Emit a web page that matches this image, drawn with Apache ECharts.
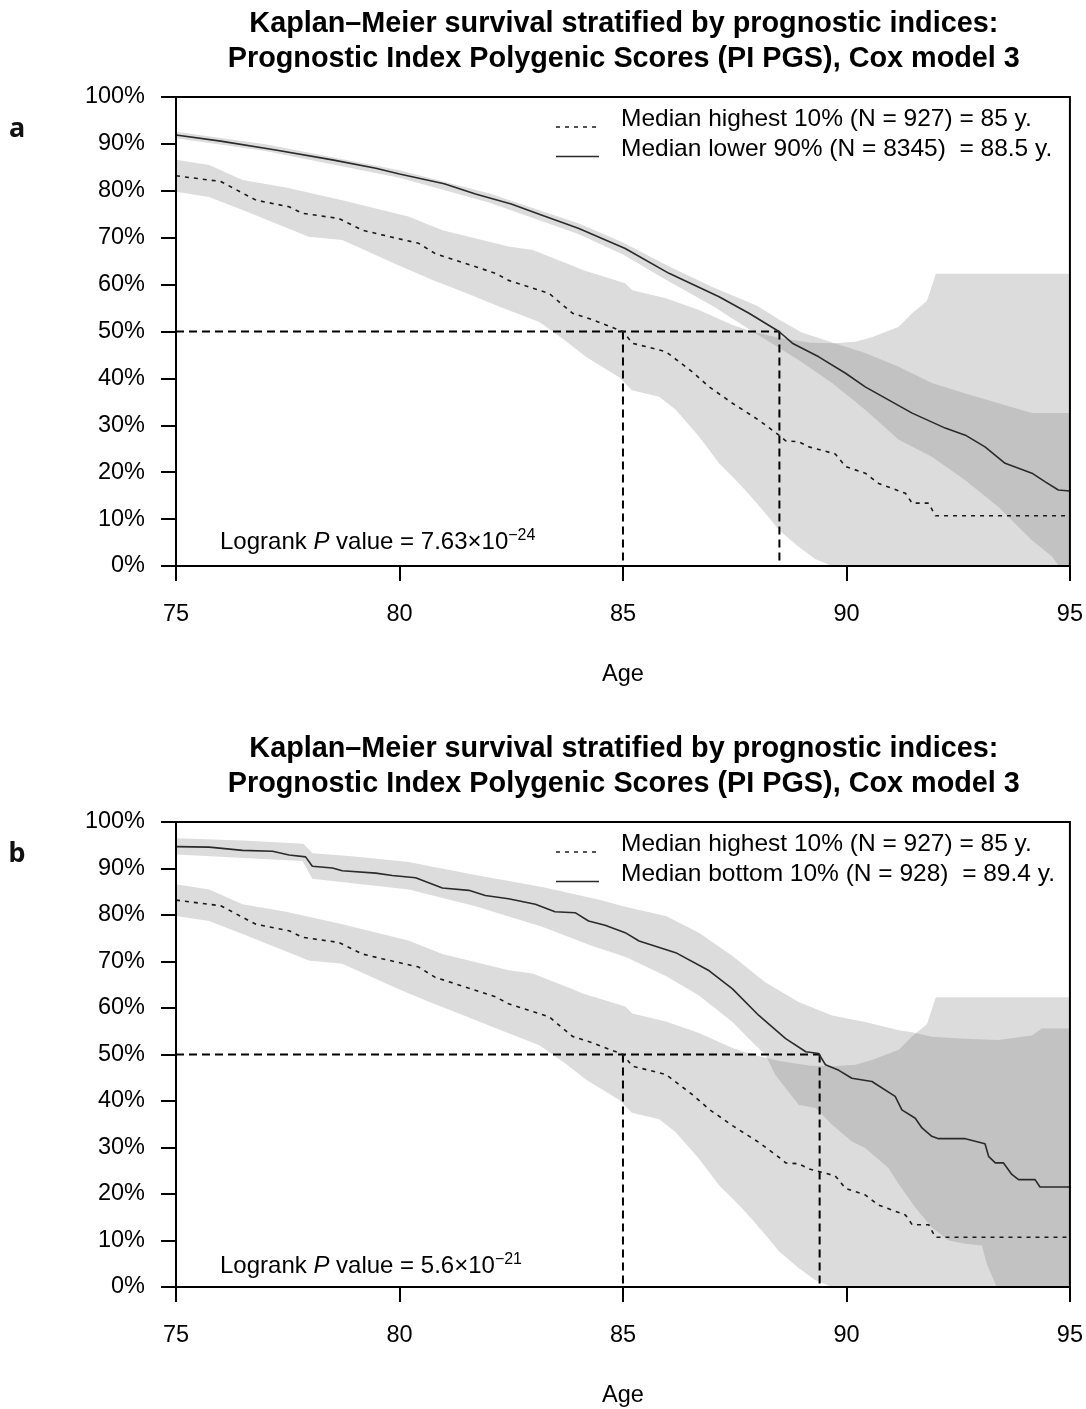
<!DOCTYPE html>
<html>
<head>
<meta charset="utf-8">
<script src="https://cdn.jsdelivr.net/npm/echarts@6/dist/echarts.min.js"></script>
<style>
  html, body { margin: 0; padding: 0; background: #fff; }
  #chart { width: 1086px; height: 1409px; }
</style>
</head>
<body>
<div id="chart"></div>
<script>
// ---- Kaplan–Meier estimates (age in years, survival in %) ----

// Highest 10% PI PGS group (same group in both panels)
const highAge  = [75.0, 75.74, 76.0, 76.49, 76.79, 77.53, 77.83, 78.64, 79.17, 79.61, 80.43, 80.8, 81.48, 82.15, 82.44, 83.35, 83.87, 84.32, 84.92, 85.0, 85.21, 85.96, 86.55, 86.93, 87.45, 88.04, 88.49, 88.64, 88.93, 89.16, 89.75, 89.98, 90.42, 90.72, 91.32, 91.47, 91.84, 91.99, 95.0];
const highSurv = [83.2, 82.3, 82.0, 79.5, 78.0, 76.6, 75.2, 74.1, 71.6, 70.6, 68.8, 66.6, 64.5, 62.4, 60.9, 58.1, 53.9, 52.5, 50.3, 50.0, 47.5, 45.7, 41.4, 38.2, 34.7, 31.1, 27.9, 26.7, 26.5, 25.4, 23.9, 21.2, 19.8, 17.6, 15.5, 13.4, 13.4, 10.7, 10.7];
const highUpAge = [75.0, 75.74, 76.49, 77.46, 78.72, 80.2, 80.96, 82.44, 82.98, 83.93, 84.1, 85.05, 85.21, 85.96, 86.7, 87.45, 87.89, 88.5, 89.2, 89.7, 90.2, 90.57, 91.17, 91.47, 91.8, 92.0, 95.0];
const highUp    = [86.6, 85.5, 82.3, 80.7, 78.0, 74.5, 71.6, 68.1, 67.4, 63.8, 63.1, 60.3, 58.8, 57.1, 54.6, 51.4, 50.0, 48.6, 47.6, 47.5, 47.8, 48.8, 51.0, 53.9, 56.5, 62.3, 62.3];
const highLoAge = [75.0, 75.74, 76.49, 77.97, 78.72, 80.0, 80.74, 81.6, 82.24, 83.13, 83.72, 84.17, 84.92, 85.2, 85.81, 86.18, 86.7, 87.15, 87.6, 87.89, 88.19, 88.49, 88.93, 89.3, 89.68, 95.0];
const highLo    = [79.8, 78.7, 75.9, 70.2, 69.5, 64.0, 61.0, 57.8, 55.3, 52.0, 48.0, 44.6, 40.2, 37.5, 36.1, 33.3, 27.6, 21.9, 17.6, 14.5, 11.2, 7.7, 4.1, 1.5, 0.0, 0.0];

// Lower 90% group (panel a)
const lowerAge  = [75.0, 76.0, 77.23, 78.5, 79.47, 80.0, 81.0, 81.7, 82.5, 83.19, 84.0, 85.05, 86.03, 87.15, 87.82, 88.49, 88.79, 89.38, 89.98, 90.42, 90.87, 91.47, 92.21, 92.66, 93.1, 93.55, 94.15, 94.44, 94.74, 95.0];
const lowerSurv = [91.9, 90.6, 88.7, 86.6, 84.8, 83.6, 81.5, 79.3, 77.2, 74.8, 72.0, 67.7, 62.4, 57.4, 53.9, 50.0, 47.5, 44.6, 41.1, 38.2, 35.8, 32.6, 29.4, 27.9, 25.4, 21.9, 19.8, 18.0, 16.2, 16.0];
const lowerUpAge = [75.0, 77.0, 80.0, 82.0, 84.0, 85.0, 86.0, 87.0, 88.0, 88.5, 89.0, 89.7, 90.42, 91.17, 91.91, 92.66, 93.4, 94.15, 95.0];
const lowerUp    = [92.6, 89.9, 84.4, 79.5, 73.1, 69.0, 64.0, 59.5, 55.5, 52.5, 49.8, 47.6, 45.4, 42.5, 39.0, 36.8, 34.7, 32.6, 32.6];
const lowerLoAge = [75.0, 77.0, 80.0, 82.0, 84.0, 85.0, 86.0, 87.0, 87.9, 88.93, 89.68, 90.42, 91.17, 91.91, 92.66, 93.4, 94.15, 94.6, 94.75, 95.0];
const lowerLo    = [91.2, 88.5, 82.8, 77.5, 70.8, 66.4, 60.8, 55.5, 50.0, 43.9, 39.0, 33.3, 26.9, 23.3, 18.3, 12.6, 5.5, 2.0, 0.0, 0.0];

// Bottom 10% group (panel b)
const bottomAge  = [75.0, 75.74, 76.49, 77.16, 77.53, 77.9, 78.05, 78.5, 78.72, 79.47, 79.84, 80.36, 80.96, 81.55, 81.92, 82.44, 83.04, 83.48, 83.93, 84.23, 84.6, 85.05, 85.36, 86.18, 86.93, 87.45, 88.04, 88.64, 89.09, 89.38, 89.53, 89.83, 90.12, 90.57, 91.09, 91.24, 91.54, 91.69, 91.91, 92.06, 92.66, 93.1, 93.18, 93.33, 93.51, 93.7, 93.85, 94.22, 94.33, 95.0];
const bottomSurv = [94.7, 94.6, 93.9, 93.7, 92.9, 92.5, 90.5, 90.1, 89.5, 89.0, 88.5, 88.0, 85.8, 85.3, 84.2, 83.5, 82.3, 80.7, 80.5, 78.7, 77.8, 76.2, 74.4, 71.9, 68.0, 64.1, 58.4, 53.4, 50.6, 50.2, 47.8, 46.6, 44.9, 44.2, 41.0, 38.1, 36.3, 34.2, 32.4, 31.9, 31.9, 30.8, 28.1, 26.7, 26.7, 24.2, 23.1, 23.1, 21.5, 21.5];
const bottomUpAge = [75.0, 76.5, 77.85, 78.05, 79.0, 80.2, 81.7, 83.19, 84.47, 85.05, 85.96, 86.7, 87.45, 88.19, 88.93, 89.68, 90.42, 91.17, 91.47, 91.91, 92.66, 93.4, 94.15, 94.37, 95.0];
const bottomUp    = [96.5, 96.0, 95.3, 93.3, 92.6, 91.4, 88.6, 86.0, 83.3, 81.8, 79.8, 76.2, 71.2, 65.5, 61.3, 58.4, 57.0, 55.2, 54.8, 53.8, 53.4, 53.1, 54.1, 55.6, 55.6];
const bottomLoAge = [75.0, 77.83, 78.05, 80.21, 81.7, 83.19, 84.3, 85.05, 85.96, 86.7, 87.45, 87.89, 88.19, 88.41, 88.93, 89.31, 89.68, 90.12, 90.42, 90.94, 91.17, 91.54, 91.91, 92.29, 92.66, 93.03, 93.14, 93.33, 93.36, 95.0];
const bottomLo    = [93.0, 91.6, 87.8, 85.5, 81.9, 77.5, 73.4, 71.0, 66.9, 62.7, 57.0, 52.7, 49.9, 45.6, 39.2, 38.5, 34.9, 31.3, 29.9, 25.6, 22.1, 17.1, 12.8, 10.0, 9.3, 8.9, 5.0, 0.7, 0.0, 0.0];

// Median survival ages marked by the dashed reference lines
const mediansA = [85, 88.5];
const mediansB = [85, 89.4];

// Axis ticks
const ageMin = 75, ageMax = 95, ageStep = 5;
const survMin = 0, survMax = 100, survStep = 10;

// Texts
const titleText = 'Kaplan\u2013Meier survival stratified by prognostic indices:\nPrognostic Index Polygenic Scores (PI PGS), Cox model 3';
const legendA = ['Median highest 10% (N = 927) = 85 y.', 'Median lower 90% (N = 8345)  = 88.5 y.'];
const legendB = ['Median highest 10% (N = 927) = 85 y.', 'Median bottom 10% (N = 928)  = 89.4 y.'];
const pValueA = ['7.63', '\u221224'];
const pValueB = ['5.6', '\u221221'];

// ---- layout ----
const FONT = "'Liberation Sans', Arial, Helvetica, sans-serif";
const PLOT_LEFT = 176, PLOT_RIGHT = 1071.6;
const panels = [
  { top: 97,  height: 469 },
  { top: 822, height: 468 }
];
const BAND_FILL = 'rgba(120,120,120,0.26)';
const INK = '#000';

const zip = (xs, ys) => xs.map((x, i) => [x, ys[i]]);

function bandSeries(gi, upAge, up, loAge, lo) {
  const upper = zip(upAge, up);
  const lower = zip(loAge, lo).reverse();
  return {
    type: 'custom', xAxisIndex: gi, yAxisIndex: gi, silent: true, z: 1,
    data: [[ageMin, survMin]],
    renderItem: (params, api) => ({
      type: 'polygon',
      shape: { points: upper.concat(lower).map(p => api.coord(p)) },
      style: { fill: BAND_FILL }
    })
  };
}

function curveSeries(gi, ages, surv, dashed) {
  return {
    type: 'line', xAxisIndex: gi, yAxisIndex: gi, silent: true, z: 4,
    symbol: 'none', showSymbol: false,
    data: zip(ages, surv),
    lineStyle: dashed ? { color: '#1a1a1a', width: 1.6, type: [4, 5] }
                      : { color: '#2a2a2a', width: 1.6, type: 'solid' }
  };
}

function medianSeries(gi, medians) {
  const out = [];
  const last = Math.max(...medians);
  out.push({ data: [[ageMin, 50], [last, 50]] });
  medians.forEach(m => out.push({ data: [[m, 50], [m, survMin]] }));
  return out.map(s => ({
    type: 'line', xAxisIndex: gi, yAxisIndex: gi, silent: true, z: 3,
    symbol: 'none', showSymbol: false, data: s.data,
    lineStyle: { color: INK, width: 2, type: [8, 5] }
  }));
}

const grids = panels.map(p => ({
  left: PLOT_LEFT, top: p.top, width: PLOT_RIGHT - PLOT_LEFT, height: p.height,
  show: true, borderColor: INK, borderWidth: 2, backgroundColor: 'transparent', z: 10
}));

const xAxes = panels.map((p, i) => ({
  gridIndex: i, type: 'value', min: ageMin, max: ageMax, interval: ageStep, z: 10,
  name: 'Age', nameLocation: 'middle', nameGap: 97,
  nameTextStyle: { fontFamily: FONT, fontSize: 23.5, color: INK },
  axisLine: { show: true, onZero: false, lineStyle: { color: INK, width: 2 } },
  axisTick: { show: true, length: 15, lineStyle: { color: INK, width: 2 } },
  axisLabel: { margin: 37, fontFamily: FONT, fontSize: 23.5, color: INK },
  splitLine: { show: false }
}));

const yAxes = panels.map((p, i) => ({
  gridIndex: i, type: 'value', min: survMin, max: survMax, interval: survStep, z: 10,
  axisLine: { show: true, onZero: false, lineStyle: { color: INK, width: 2 } },
  axisTick: { show: true, length: 15, lineStyle: { color: INK, width: 2 } },
  axisLabel: { margin: 31, fontFamily: FONT, fontSize: 23.5, color: INK, formatter: '{value}%' },
  splitLine: { show: false }
}));

const series = [
  bandSeries(0, highUpAge, highUp, highLoAge, highLo),
  bandSeries(0, lowerUpAge, lowerUp, lowerLoAge, lowerLo),
  ...medianSeries(0, mediansA),
  curveSeries(0, highAge, highSurv, true),
  curveSeries(0, lowerAge, lowerSurv, false),

  bandSeries(1, highUpAge, highUp, highLoAge, highLo),
  bandSeries(1, bottomUpAge, bottomUp, bottomLoAge, bottomLo),
  ...medianSeries(1, mediansB),
  curveSeries(1, highAge, highSurv, true),
  curveSeries(1, bottomAge, bottomSurv, false)
];

// Titles centred over each plot
const titles = panels.map(p => ({
  text: titleText, left: (PLOT_LEFT + PLOT_RIGHT) / 2, top: p.top - 90.5,
  textAlign: 'center', padding: 0,
  textStyle: { fontFamily: FONT, fontSize: 28.8, fontWeight: 'bold', color: INK, lineHeight: 35 }
}));

// Legend boxes, panel letters and logrank annotations
const graphic = [];
[legendA, legendB].forEach((labels, i) => {
  const top = panels[i].top;
  labels.forEach((label, r) => {
    const base = top + 30 + r * 29.5;
    graphic.push({
      type: 'line', silent: true, z: 20,
      shape: { x1: 556, y1: base, x2: 599, y2: base },
      style: r === 0 ? { stroke: '#1a1a1a', lineWidth: 1.6, lineDash: [4, 5] }
                     : { stroke: '#2a2a2a', lineWidth: 1.6 }
    });
    graphic.push({
      type: 'text', silent: true, z: 20, x: 621, y: base - 7.5,
      style: { text: label, fontFamily: FONT, fontSize: 24.5, fill: INK,
               textAlign: 'left', textVerticalAlign: 'middle' }
    });
  });
});
['a', 'b'].forEach((letter, i) => {
  graphic.push({
    type: 'text', silent: true, x: 17, y: panels[i].top + 32,
    style: { text: letter, fontFamily: "'Noto Sans', 'Open Sans', sans-serif", fontSize: 27,
             fontWeight: 'bold', fill: '#111', textAlign: 'center', textVerticalAlign: 'middle' }
  });
});
[pValueA, pValueB].forEach((pv, i) => {
  graphic.push({
    type: 'text', silent: true, z: 20, x: 220, y: panels[i].top + panels[i].height - 24,
    style: {
      text: 'Logrank {it|P} value = ' + pv[0] + '\u00d710{sup|' + pv[1] + '}',
      fontFamily: FONT, fontSize: 24, fill: INK, lineHeight: 28,
      textAlign: 'left', textVerticalAlign: 'middle',
      rich: {
        it:  { fontFamily: FONT, fontSize: 24, fontStyle: 'italic', fill: INK, lineHeight: 28 },
        sup: { fontFamily: FONT, fontSize: 16, fill: INK, lineHeight: 16, verticalAlign: 'top' }
      }
    }
  });
});

const chart = echarts.init(document.getElementById('chart'), null, { renderer: 'canvas' });
chart.setOption({
  backgroundColor: '#fff',
  animation: false,
  title: titles,
  grid: grids,
  xAxis: xAxes,
  yAxis: yAxes,
  series: series,
  graphic: graphic
});
</script>
</body>
</html>
